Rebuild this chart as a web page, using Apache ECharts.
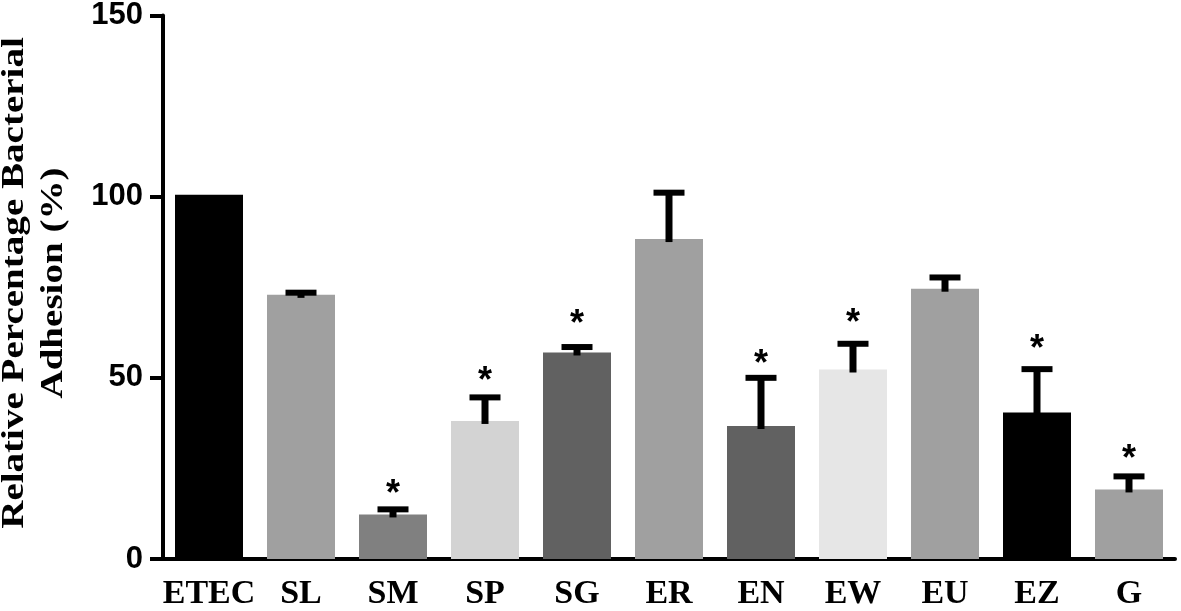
<!DOCTYPE html>
<html>
<head>
<meta charset="utf-8">
<script src="https://cdn.jsdelivr.net/npm/echarts@6/dist/echarts.min.js"></script>
<style>html,body{margin:0;padding:0;background:#fff}#c{width:1181px;height:611px}</style>
</head>
<body>
<div id="c"></div>
<script>
const categories = ['ETEC','SL','SM','SP','SG','ER','EN','EW','EU','EZ','G'];
const means =      [100.5, 72.9, 12.3, 38.1, 57.0, 88.3, 36.7, 52.3, 74.6, 40.4, 19.2];
const errTops =    [null, 73.5, 13.7, 44.6, 58.5, 101.1, 50.0, 59.4, 77.7, 52.4, 22.8];
const starY =      [null, null, 19.7, 50.7, 66.4, null, 55.4, 66.7, null, 59.5, 29.3];
const barColors =  ['#000000','#a0a0a0','#808080','#d3d3d3','#616161','#a0a0a0','#616161','#e6e6e6','#a0a0a0','#000000','#a0a0a0'];
const yTicks = [0, 50, 100, 150];

const chart = echarts.init(document.getElementById('c'));
chart.setOption({
  animation: false,
  backgroundColor: '#fff',
  grid: { left: 163, right: 6, top: 13, bottom: 51, containLabel: false },
  xAxis: {
    type: 'category',
    data: categories,
    boundaryGap: true,
    axisLine: { lineStyle: { color: '#000', width: 4 } },
    axisTick: { alignWithLabel: true, length: 12, lineStyle: { color: '#000', width: 4 } },
    axisLabel: { interval: 0, color: '#000', fontFamily: 'Liberation Serif', fontWeight: 'bold', fontSize: 34, margin: 18 }
  },
  yAxis: {
    type: 'value',
    min: yTicks[0], max: yTicks[yTicks.length - 1], interval: 50,
    axisLine: { show: true, lineStyle: { color: '#000', width: 4 } },
    axisTick: { show: true, length: 13, lineStyle: { color: '#000', width: 4 } },
    splitLine: { show: false },
    axisLabel: { color: '#000', fontFamily: 'Liberation Sans', fontWeight: 'bold', fontSize: 31, margin: 20 }
  },
  graphic: [{
    type: 'text',
    x: 34, y: 283,
    rotation: Math.PI / 2,
    scaleX: 1.26,
    style: {
      text: 'Relative Percentage Bacterial\nAdhesion (%)',
      fill: '#000',
      font: 'bold 31px "Liberation Serif"',
      textAlign: 'center',
      textVerticalAlign: 'middle',
      lineHeight: 39
    }
  }],
  series: [
    {
      type: 'bar',
      barWidth: 68,
      data: means.map((v, i) => ({ value: v, itemStyle: { color: barColors[i] } })),
      z: 2
    },
    {
      type: 'custom',
      z: 3,
      data: means.map((v, i) => [i, v, errTops[i]]),
      renderItem: function (params, api) {
        const err = api.value(2);
        if (err == null || isNaN(err)) return null;
        const top = api.coord([api.value(0), err]);
        const base = api.coord([api.value(0), api.value(1)]);
        return {
          type: 'group',
          children: [
            { type: 'rect', shape: { x: top[0] - 3.5, y: top[1], width: 7, height: base[1] - top[1] + 3 }, style: { fill: '#000' } },
            { type: 'rect', shape: { x: top[0] - 15.5, y: top[1] - 3, width: 31, height: 6 }, style: { fill: '#000' } }
          ]
        };
      }
    },
    {
      type: 'custom',
      z: 4,
      data: starY.map((v, i) => [i, v]),
      renderItem: function (params, api) {
        const s = api.value(1);
        if (s == null || isNaN(s)) return null;
        const p = api.coord([api.value(0), s]);
        return {
          type: 'text',
          x: p[0], y: p[1] + 7,
          style: { text: '*', fill: '#000', font: 'bold 36px "Liberation Sans"', textAlign: 'center', textVerticalAlign: 'middle' }
        };
      }
    }
  ]
});
</script>
</body>
</html>
